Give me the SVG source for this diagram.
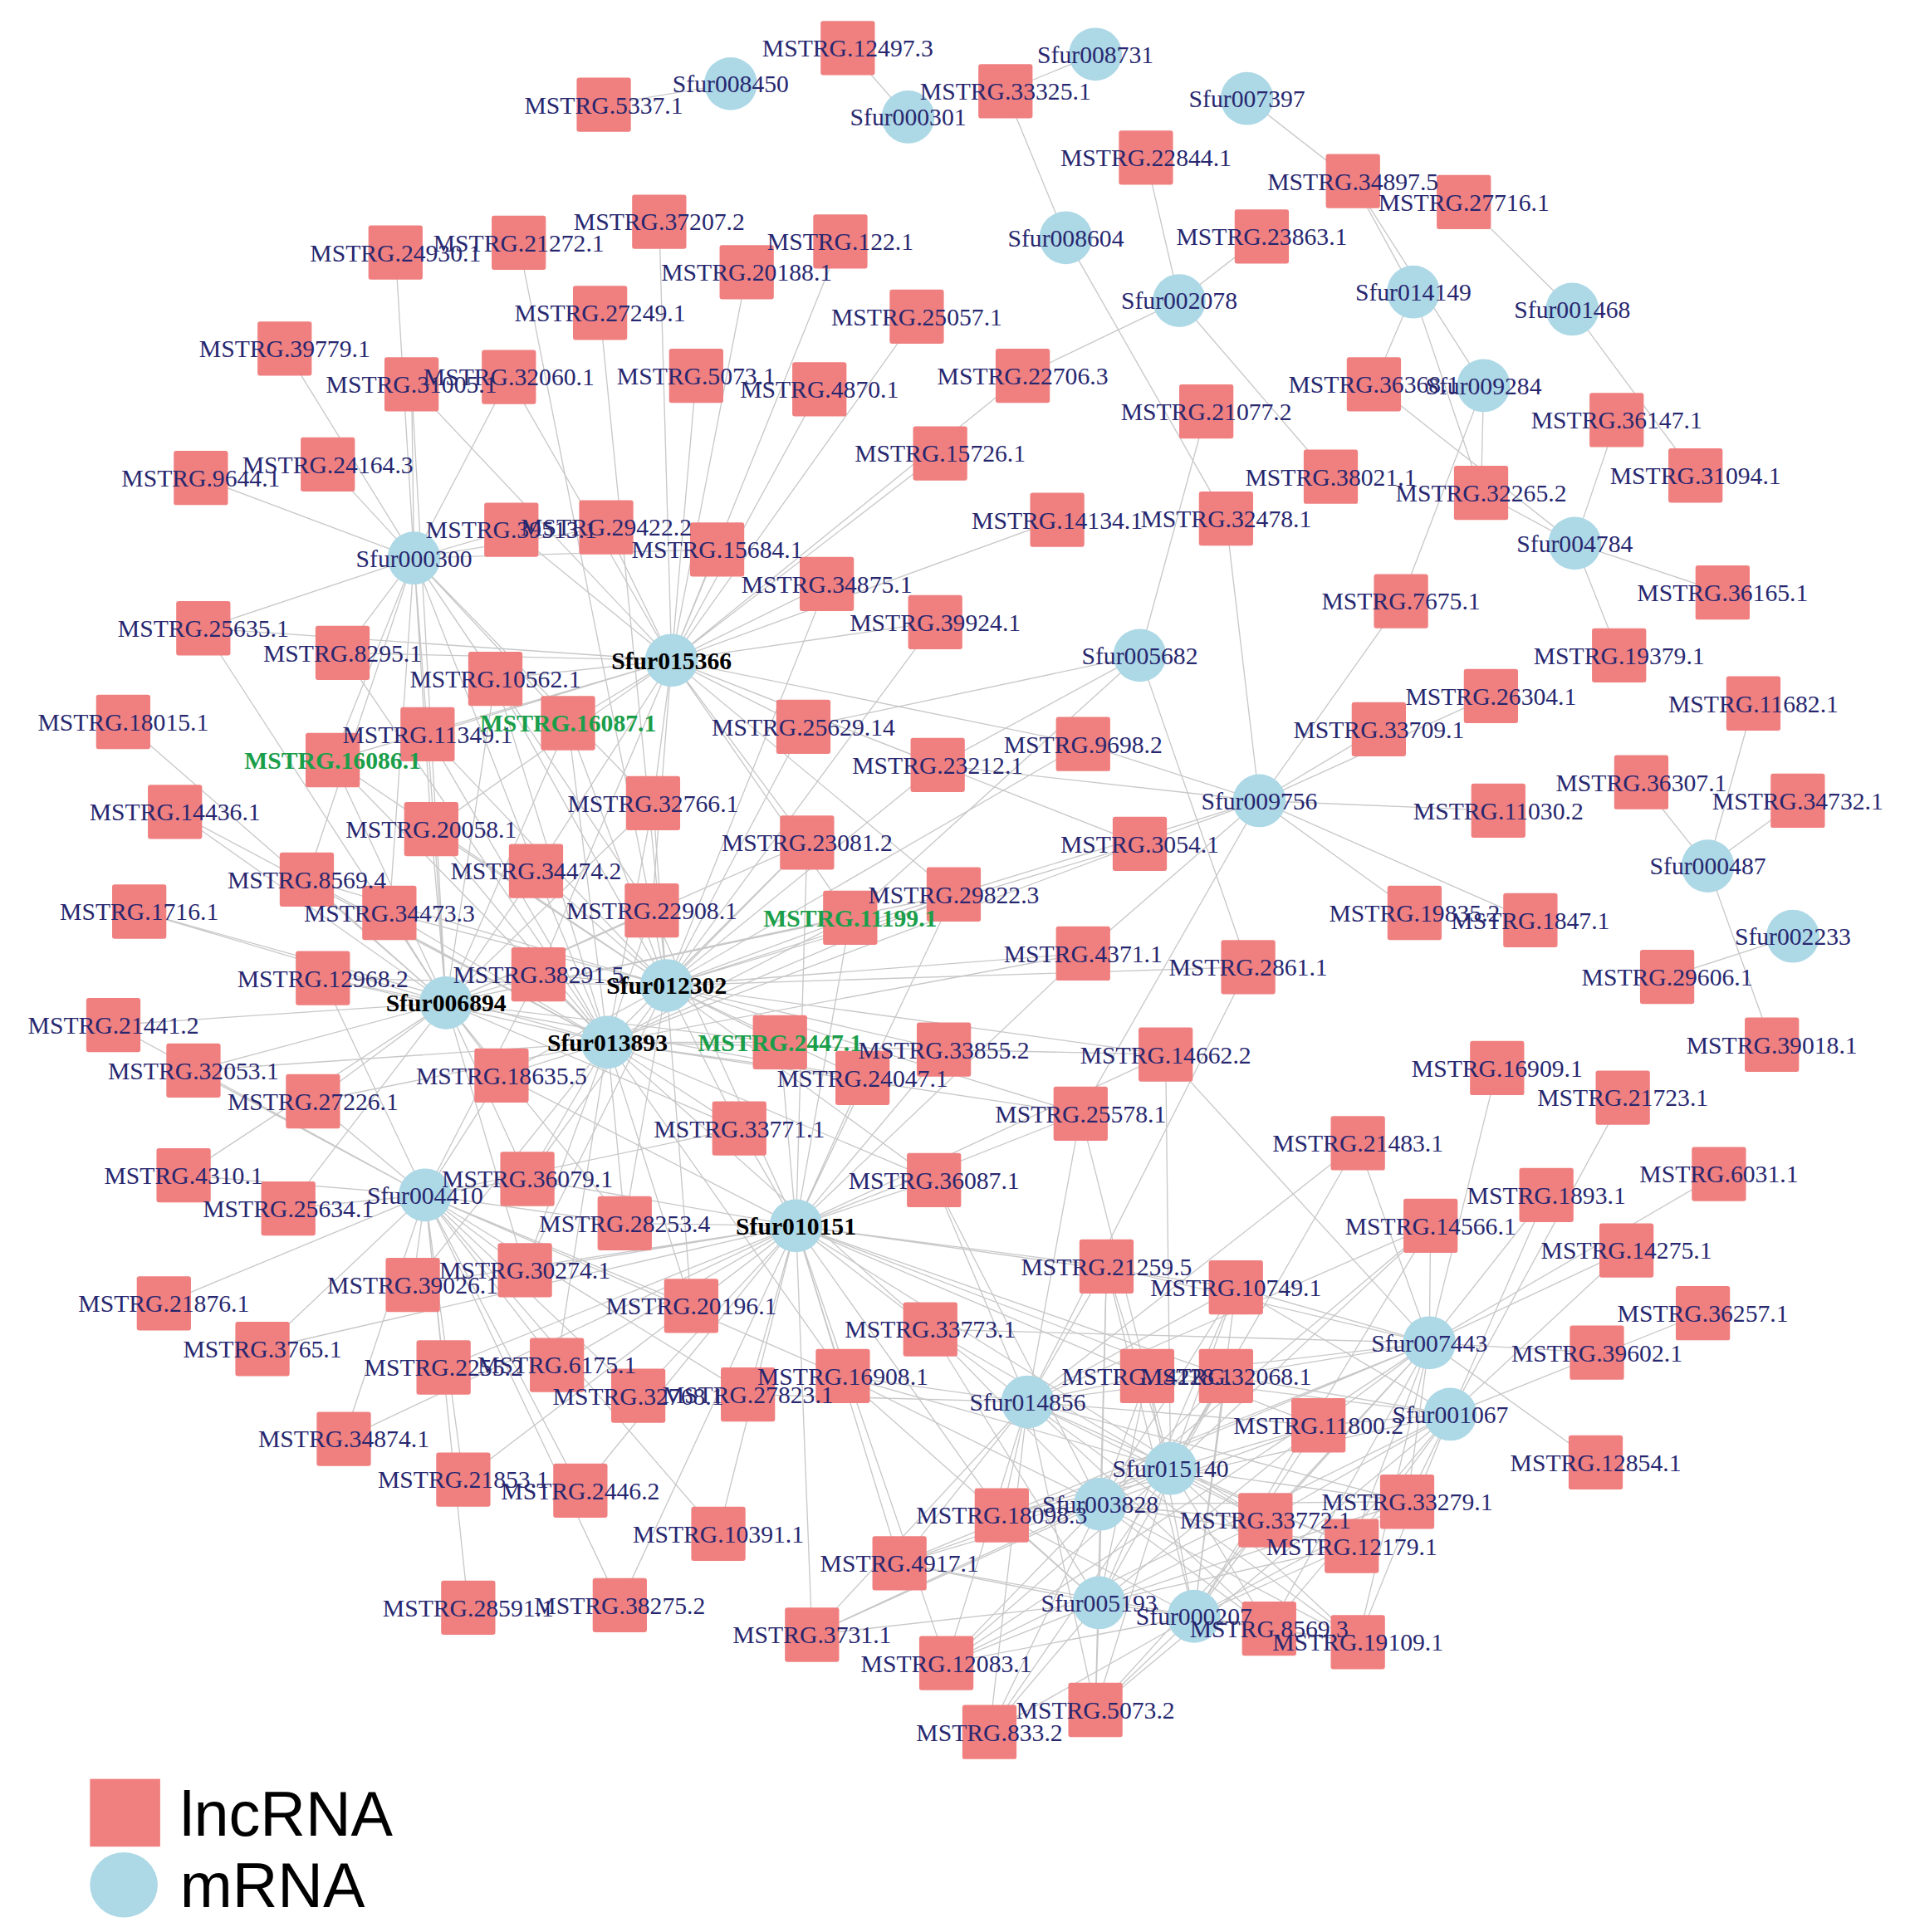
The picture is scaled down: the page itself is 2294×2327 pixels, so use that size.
<svg xmlns="http://www.w3.org/2000/svg" width="2294" height="2327" viewBox="0 0 2294 2327">
<style>
.e{fill:none;stroke:#c8c8c8;stroke-width:0.9}
.sq{fill:#f08080}
.ci{fill:#add8e6}
#labels text{font-family:"Liberation Serif","Times New Roman",serif;font-size:20px;fill:#27276f;text-anchor:middle}
#labels text.b{font-weight:bold;fill:#000}
#labels text.g{font-weight:bold;fill:#1a9e4a}
.lg{font-family:"Liberation Sans",Arial,sans-serif;font-size:51px;fill:#000}
</style>
<defs>
<rect id="sq" class="sq" x="-22" y="-22" width="44" height="44" rx="2"/>
<circle id="ci" class="ci" r="21.5"/>
</defs>
<rect width="2294" height="2327" fill="#fff"/>
<g transform="scale(1.4838)">
<g id="edges">
<path class="e" d="M593 68L490 85M737 95L688 39M889 44L816 74M865 193L816 74M865 193L995 421M1012 80L1098 147M957 244L930 128M957 244L1024 192M957 244L830 305M957 244L1080 387M1147 237L1098 147M1147 237L1115 312M1147 237L1202 400M1204 313L1098 147M1204 313L1202 400M1204 313L1137 488M1276 251L1188 164M1276 251L1376 386M1278 441L1312 341M1278 441L1202 400M1278 441L1115 312M1278 441L1398 481M1278 441L1314 532M1386 703L1423 571M1386 703L1332 635M1386 703L1459 650M1386 703L1438 848M1455 760L1353 793"/>
<path class="e" d="M336 453L321 205M336 453L231 283M336 453L334 312M336 453L413 306M336 453L266 377M336 453L163 388M336 453L165 510M336 453L278 530M336 453L402 551M336 453L415 430M336 453L492 428M336 453L582 446M336 453L347 596M336 453L461 587M336 453L270 617M336 453L350 673M336 453L435 707M336 453L530 652M336 453L316 741M336 453L249 714M336 453L529 739"/>
<path class="e" d="M545 536L334 312M545 536L413 306M545 536L535 180M545 536L682 196M545 536L606 221M545 536L565 305M545 536L665 316M545 536L744 257M545 536L830 305M545 536L763 368M545 536L858 422M545 536L671 474M545 536L759 505M545 536L582 446M545 536L492 428M545 536L415 430M545 536L278 530M545 536L402 551M545 536L347 596M545 536L461 587M545 536L270 617M545 536L165 510M545 536L530 652M545 536L350 673M545 536L435 707M545 536L529 739M545 536L655 684M545 536L652 590M545 536L761 621M545 536L879 604M545 536L690 745M545 536L774 726M545 536L925 685M545 536L437 791"/>
<path class="e" d="M541 800L421 197M541 800L487 254M541 800L671 474M541 800L759 505M541 800L402 551M541 800L347 596M541 800L461 587M541 800L270 617M541 800L530 652M541 800L350 673M541 800L435 707M541 800L529 739M541 800L655 684M541 800L652 590M541 800L761 621M541 800L879 604M541 800L690 745M541 800L774 726M541 800L925 685M541 800L879 774M541 800L1013 785M541 800L437 791M541 800L262 794M541 800L316 741M541 800L249 714M541 800L633 846M541 800L766 852M541 800L946 856M541 800L700 875M541 800L407 873M541 800L600 916M541 800L877 904M541 800L758 958M541 800L428 957M541 800L507 993M541 800L561 1060M541 800L426 1031"/>
<path class="e" d="M493 846L461 587M493 846L270 617M493 846L347 596M493 846L402 551M493 846L278 530M493 846L530 652M493 846L350 673M493 846L435 707M493 846L529 739M493 846L655 684M493 846L690 745M493 846L774 726M493 846L925 685M493 846L879 774M493 846L437 791M493 846L262 794M493 846L316 741M493 846L249 714M493 846L113 740M493 846L142 659M493 846L633 846M493 846L766 852M493 846L946 856M493 846L700 875M493 846L407 873M493 846L600 916M493 846L877 904M493 846L758 958M493 846L428 957M493 846L507 993M493 846L254 894M493 846L157 869M493 846L426 1031M493 846L561 1060M493 846L335 1043M493 846L452 1108M493 846L684 1117M493 846L755 1079"/>
<path class="e" d="M362 814L92 832M362 814L157 869M362 814L254 894M362 814L262 794M362 814L316 741M362 814L249 714M362 814L113 740M362 814L142 659M362 814L100 586M362 814L165 510M362 814L334 312M362 814L350 673M362 814L270 617M362 814L347 596M362 814L461 587M362 814L402 551M362 814L407 873M362 814L428 957M362 814L437 791M362 814L435 707M362 814L529 739M362 814L633 846M362 814L690 745M362 814L530 652M362 814L655 684M362 814L774 726M362 814L600 916M362 814L700 875M362 814L426 1031M362 814L507 993M362 814L149 954M362 814L234 981"/>
<path class="e" d="M646 995L758 958M646 995L600 916M646 995L700 875M646 995L633 846M646 995L766 852M646 995L507 993M646 995L561 1060M646 995L755 1079M646 995L684 1117M646 995L607 1132M646 995L518 1133M646 995L452 1108M646 995L360 1110M646 995L426 1031M646 995L335 1043M646 995L428 957M646 995L583 1245M646 995L471 1210M646 995L376 1201M646 995L503 1303M646 995L659 1327M646 995L898 1028M646 995L1003 1045M646 995L931 1117M646 995L995 1117M646 995L877 904M646 995L407 873M646 995L690 745M646 995L774 726M646 995L655 684M646 995L529 739M646 995L946 856M646 995L879 774M646 995L813 1230M646 995L730 1269M646 995L768 1350M646 995L1070 1157M646 995L1027 1234M646 995L213 1095M646 995L279 1168"/>
<path class="e" d="M345 970L149 954M345 970L234 981M345 970L133 1058M345 970L213 1095M345 970L279 1168M345 970L335 1043M345 970L426 1031M345 970L428 957M345 970L507 993M345 970L254 894M345 970L157 869M345 970L407 873M345 970L360 1110M345 970L452 1108M345 970L376 1201M345 970L471 1210M345 970L561 1060M345 970L518 1133M345 970L380 1305M345 970L503 1303M345 970L262 794M345 970L92 832M345 970L607 1132M345 970L583 1245M345 970L684 1117M345 970L600 916M345 970L437 791"/>
<path class="e" d="M834 1138L758 958M834 1138L877 904M834 1138L898 1028M834 1138L1003 1045M834 1138L931 1117M834 1138L995 1117M834 1138L755 1079M834 1138L684 1117M834 1138L813 1230M834 1138L730 1269M834 1138L659 1327M834 1138L768 1350M834 1138L803 1406M834 1138L889 1388M834 1138L1027 1234M834 1138L1097 1255M834 1138L1070 1157M834 1138L1030 1322M834 1138L1102 1333M834 1138L1142 1219M834 1138L1102 928M834 1138L1161 995M834 1138L607 1132M834 1138L1013 785"/>
<path class="e" d="M950 1192L898 1028M950 1192L1003 1045M950 1192L931 1117M950 1192L995 1117M950 1192L1070 1157M950 1192L1142 1219M950 1192L1027 1234M950 1192L1097 1255M950 1192L1030 1322M950 1192L1102 1333M950 1192L889 1388M950 1192L803 1406M950 1192L768 1350M950 1192L813 1230M950 1192L730 1269M950 1192L684 1117M950 1192L755 1079M950 1192L1102 928M950 1192L1161 995M950 1192L877 904M950 1192L946 856M950 1192L659 1327"/>
<path class="e" d="M893 1221L898 1028M893 1221L1003 1045M893 1221L931 1117M893 1221L995 1117M893 1221L1070 1157M893 1221L1142 1219M893 1221L1027 1234M893 1221L1097 1255M893 1221L1030 1322M893 1221L1102 1333M893 1221L889 1388M893 1221L803 1406M893 1221L768 1350M893 1221L813 1230M893 1221L730 1269M893 1221L659 1327M893 1221L684 1117M893 1221L755 1079M893 1221L758 958M893 1221L1161 995"/>
<path class="e" d="M892 1301L813 1230M892 1301L730 1269M892 1301L659 1327M892 1301L768 1350M892 1301L803 1406M892 1301L889 1388M892 1301L1027 1234M892 1301L1097 1255M892 1301L1030 1322M892 1301L1102 1333M892 1301L931 1117M892 1301L995 1117M892 1301L1070 1157M892 1301L1142 1219M892 1301L898 1028M892 1301L1003 1045M892 1301L684 1117M892 1301L755 1079"/>
<path class="e" d="M969 1312L889 1388M969 1312L803 1406M969 1312L768 1350M969 1312L1030 1322M969 1312L1102 1333M969 1312L1097 1255M969 1312L1027 1234M969 1312L1142 1219M969 1312L1070 1157M969 1312L995 1117M969 1312L931 1117M969 1312L1003 1045M969 1312L898 1028M969 1312L813 1230M969 1312L730 1269M969 1312L1161 995"/>
<path class="e" d="M1160 1090L1102 928M1160 1090L1161 995M1160 1090L1215 867M1160 1090L1255 970M1160 1090L1320 1015M1160 1090L1395 953M1160 1090L1296 1098M1160 1090L1295 1187M1160 1090L1070 1157M1160 1090L1003 1045M1160 1090L898 1028M1160 1090L995 1117M1160 1090L931 1117M1160 1090L1142 1219M1160 1090L1027 1234M1160 1090L1097 1255M1160 1090L1030 1322M1160 1090L1102 1333M1160 1090L889 1388M1160 1090L813 1230M1160 1090L730 1269M1160 1090L768 1350M1160 1090L755 1079M1160 1090L946 856"/>
<path class="e" d="M1177 1148L1255 970M1177 1148L1320 1015M1177 1148L1382 1066M1177 1148L1317 891M1177 1148L1070 1157M1177 1148L1142 1219M1177 1148L1097 1255M1177 1148L1102 1333M1177 1148L1030 1322M1177 1148L1027 1234M1177 1148L889 1388M1177 1148L995 1117M1177 1148L931 1117M1177 1148L813 1230M1177 1148L768 1350M1177 1148L1003 1045"/>
<path class="e" d="M1022 650L1137 488M1022 650L1210 565M1022 650L1119 592M1022 650L1216 658M1022 650L1148 741M1022 650L1242 747M1022 650L995 421M1022 650L879 604M1022 650L761 621M1022 650L925 685M1022 650L774 726M1022 650L879 774M1022 650L877 904"/>
<path class="e" d="M925 532L979 334M925 532L652 590M925 532L761 621M925 532L1013 785M925 532L690 745"/>
</g>
<g id="nodes">
<g id="Sfur008450"><use href="#ci" x="593" y="68"/></g>
<g id="Sfur000301"><use href="#ci" x="737" y="95"/></g>
<g id="Sfur008731"><use href="#ci" x="889" y="44"/></g>
<g id="Sfur007397"><use href="#ci" x="1012" y="80"/></g>
<g id="Sfur008604"><use href="#ci" x="865" y="193"/></g>
<g id="Sfur002078"><use href="#ci" x="957" y="244"/></g>
<g id="Sfur014149"><use href="#ci" x="1147" y="237"/></g>
<g id="Sfur001468"><use href="#ci" x="1276" y="251"/></g>
<g id="Sfur009284"><use href="#ci" x="1204" y="313"/></g>
<g id="Sfur004784"><use href="#ci" x="1278" y="441"/></g>
<g id="Sfur000300"><use href="#ci" x="336" y="453"/></g>
<g id="Sfur015366"><use href="#ci" x="545" y="536"/></g>
<g id="Sfur005682"><use href="#ci" x="925" y="532"/></g>
<g id="Sfur009756"><use href="#ci" x="1022" y="650"/></g>
<g id="Sfur000487"><use href="#ci" x="1386" y="703"/></g>
<g id="Sfur002233"><use href="#ci" x="1455" y="760"/></g>
<g id="Sfur012302"><use href="#ci" x="541" y="800"/></g>
<g id="Sfur006894"><use href="#ci" x="362" y="814"/></g>
<g id="Sfur013893"><use href="#ci" x="493" y="846"/></g>
<g id="Sfur004410"><use href="#ci" x="345" y="970"/></g>
<g id="Sfur010151"><use href="#ci" x="646" y="995"/></g>
<g id="Sfur007443"><use href="#ci" x="1160" y="1090"/></g>
<g id="Sfur014856"><use href="#ci" x="834" y="1138"/></g>
<g id="Sfur001067"><use href="#ci" x="1177" y="1148"/></g>
<g id="Sfur015140"><use href="#ci" x="950" y="1192"/></g>
<g id="Sfur003828"><use href="#ci" x="893" y="1221"/></g>
<g id="Sfur005193"><use href="#ci" x="892" y="1301"/></g>
<g id="Sfur000207"><use href="#ci" x="969" y="1312"/></g>
<g id="MSTRG.12497.3"><use href="#sq" x="688" y="39"/></g>
<g id="MSTRG.5337.1"><use href="#sq" x="490" y="85"/></g>
<g id="MSTRG.33325.1"><use href="#sq" x="816" y="74"/></g>
<g id="MSTRG.22844.1"><use href="#sq" x="930" y="128"/></g>
<g id="MSTRG.34897.5"><use href="#sq" x="1098" y="147"/></g>
<g id="MSTRG.27716.1"><use href="#sq" x="1188" y="164"/></g>
<g id="MSTRG.23863.1"><use href="#sq" x="1024" y="192"/></g>
<g id="MSTRG.37207.2"><use href="#sq" x="535" y="180"/></g>
<g id="MSTRG.24930.1"><use href="#sq" x="321" y="205"/></g>
<g id="MSTRG.21272.1"><use href="#sq" x="421" y="197"/></g>
<g id="MSTRG.122.1"><use href="#sq" x="682" y="196"/></g>
<g id="MSTRG.20188.1"><use href="#sq" x="606" y="221"/></g>
<g id="MSTRG.27249.1"><use href="#sq" x="487" y="254"/></g>
<g id="MSTRG.25057.1"><use href="#sq" x="744" y="257"/></g>
<g id="MSTRG.39779.1"><use href="#sq" x="231" y="283"/></g>
<g id="MSTRG.31005.1"><use href="#sq" x="334" y="312"/></g>
<g id="MSTRG.32060.1"><use href="#sq" x="413" y="306"/></g>
<g id="MSTRG.5073.1"><use href="#sq" x="565" y="305"/></g>
<g id="MSTRG.4870.1"><use href="#sq" x="665" y="316"/></g>
<g id="MSTRG.22706.3"><use href="#sq" x="830" y="305"/></g>
<g id="MSTRG.21077.2"><use href="#sq" x="979" y="334"/></g>
<g id="MSTRG.36368.1"><use href="#sq" x="1115" y="312"/></g>
<g id="MSTRG.36147.1"><use href="#sq" x="1312" y="341"/></g>
<g id="MSTRG.31094.1"><use href="#sq" x="1376" y="386"/></g>
<g id="MSTRG.15726.1"><use href="#sq" x="763" y="368"/></g>
<g id="MSTRG.38021.1"><use href="#sq" x="1080" y="387"/></g>
<g id="MSTRG.32265.2"><use href="#sq" x="1202" y="400"/></g>
<g id="MSTRG.9644.1"><use href="#sq" x="163" y="388"/></g>
<g id="MSTRG.24164.3"><use href="#sq" x="266" y="377"/></g>
<g id="MSTRG.14134.1"><use href="#sq" x="858" y="422"/></g>
<g id="MSTRG.32478.1"><use href="#sq" x="995" y="421"/></g>
<g id="MSTRG.39513.1"><use href="#sq" x="415" y="430"/></g>
<g id="MSTRG.29422.2"><use href="#sq" x="492" y="428"/></g>
<g id="MSTRG.15684.1"><use href="#sq" x="582" y="446"/></g>
<g id="MSTRG.34875.1"><use href="#sq" x="671" y="474"/></g>
<g id="MSTRG.39924.1"><use href="#sq" x="759" y="505"/></g>
<g id="MSTRG.7675.1"><use href="#sq" x="1137" y="488"/></g>
<g id="MSTRG.36165.1"><use href="#sq" x="1398" y="481"/></g>
<g id="MSTRG.19379.1"><use href="#sq" x="1314" y="532"/></g>
<g id="MSTRG.25635.1"><use href="#sq" x="165" y="510"/></g>
<g id="MSTRG.8295.1"><use href="#sq" x="278" y="530"/></g>
<g id="MSTRG.10562.1"><use href="#sq" x="402" y="551"/></g>
<g id="MSTRG.26304.1"><use href="#sq" x="1210" y="565"/></g>
<g id="MSTRG.11682.1"><use href="#sq" x="1423" y="571"/></g>
<g id="MSTRG.18015.1"><use href="#sq" x="100" y="586"/></g>
<g id="MSTRG.11349.1"><use href="#sq" x="347" y="596"/></g>
<g id="MSTRG.16087.1"><use href="#sq" x="461" y="587"/></g>
<g id="MSTRG.25629.14"><use href="#sq" x="652" y="590"/></g>
<g id="MSTRG.33709.1"><use href="#sq" x="1119" y="592"/></g>
<g id="MSTRG.16086.1"><use href="#sq" x="270" y="617"/></g>
<g id="MSTRG.9698.2"><use href="#sq" x="879" y="604"/></g>
<g id="MSTRG.23212.1"><use href="#sq" x="761" y="621"/></g>
<g id="MSTRG.36307.1"><use href="#sq" x="1332" y="635"/></g>
<g id="MSTRG.34732.1"><use href="#sq" x="1459" y="650"/></g>
<g id="MSTRG.11030.2"><use href="#sq" x="1216" y="658"/></g>
<g id="MSTRG.14436.1"><use href="#sq" x="142" y="659"/></g>
<g id="MSTRG.32766.1"><use href="#sq" x="530" y="652"/></g>
<g id="MSTRG.20058.1"><use href="#sq" x="350" y="673"/></g>
<g id="MSTRG.23081.2"><use href="#sq" x="655" y="684"/></g>
<g id="MSTRG.3054.1"><use href="#sq" x="925" y="685"/></g>
<g id="MSTRG.8569.4"><use href="#sq" x="249" y="714"/></g>
<g id="MSTRG.34474.2"><use href="#sq" x="435" y="707"/></g>
<g id="MSTRG.34473.3"><use href="#sq" x="316" y="741"/></g>
<g id="MSTRG.1716.1"><use href="#sq" x="113" y="740"/></g>
<g id="MSTRG.22908.1"><use href="#sq" x="529" y="739"/></g>
<g id="MSTRG.29822.3"><use href="#sq" x="774" y="726"/></g>
<g id="MSTRG.11199.1"><use href="#sq" x="690" y="745"/></g>
<g id="MSTRG.19835.2"><use href="#sq" x="1148" y="741"/></g>
<g id="MSTRG.1847.1"><use href="#sq" x="1242" y="747"/></g>
<g id="MSTRG.4371.1"><use href="#sq" x="879" y="774"/></g>
<g id="MSTRG.2861.1"><use href="#sq" x="1013" y="785"/></g>
<g id="MSTRG.12968.2"><use href="#sq" x="262" y="794"/></g>
<g id="MSTRG.38291.5"><use href="#sq" x="437" y="791"/></g>
<g id="MSTRG.29606.1"><use href="#sq" x="1353" y="793"/></g>
<g id="MSTRG.21441.2"><use href="#sq" x="92" y="832"/></g>
<g id="MSTRG.2447.1"><use href="#sq" x="633" y="846"/></g>
<g id="MSTRG.33855.2"><use href="#sq" x="766" y="852"/></g>
<g id="MSTRG.14662.2"><use href="#sq" x="946" y="856"/></g>
<g id="MSTRG.39018.1"><use href="#sq" x="1438" y="848"/></g>
<g id="MSTRG.32053.1"><use href="#sq" x="157" y="869"/></g>
<g id="MSTRG.18635.5"><use href="#sq" x="407" y="873"/></g>
<g id="MSTRG.24047.1"><use href="#sq" x="700" y="875"/></g>
<g id="MSTRG.16909.1"><use href="#sq" x="1215" y="867"/></g>
<g id="MSTRG.27226.1"><use href="#sq" x="254" y="894"/></g>
<g id="MSTRG.21723.1"><use href="#sq" x="1317" y="891"/></g>
<g id="MSTRG.25578.1"><use href="#sq" x="877" y="904"/></g>
<g id="MSTRG.33771.1"><use href="#sq" x="600" y="916"/></g>
<g id="MSTRG.21483.1"><use href="#sq" x="1102" y="928"/></g>
<g id="MSTRG.4310.1"><use href="#sq" x="149" y="954"/></g>
<g id="MSTRG.36079.1"><use href="#sq" x="428" y="957"/></g>
<g id="MSTRG.36087.1"><use href="#sq" x="758" y="958"/></g>
<g id="MSTRG.6031.1"><use href="#sq" x="1395" y="953"/></g>
<g id="MSTRG.25634.1"><use href="#sq" x="234" y="981"/></g>
<g id="MSTRG.28253.4"><use href="#sq" x="507" y="993"/></g>
<g id="MSTRG.1893.1"><use href="#sq" x="1255" y="970"/></g>
<g id="MSTRG.14566.1"><use href="#sq" x="1161" y="995"/></g>
<g id="MSTRG.14275.1"><use href="#sq" x="1320" y="1015"/></g>
<g id="MSTRG.30274.1"><use href="#sq" x="426" y="1031"/></g>
<g id="MSTRG.39026.1"><use href="#sq" x="335" y="1043"/></g>
<g id="MSTRG.21259.5"><use href="#sq" x="898" y="1028"/></g>
<g id="MSTRG.10749.1"><use href="#sq" x="1003" y="1045"/></g>
<g id="MSTRG.21876.1"><use href="#sq" x="133" y="1058"/></g>
<g id="MSTRG.20196.1"><use href="#sq" x="561" y="1060"/></g>
<g id="MSTRG.36257.1"><use href="#sq" x="1382" y="1066"/></g>
<g id="MSTRG.33773.1"><use href="#sq" x="755" y="1079"/></g>
<g id="MSTRG.3765.1"><use href="#sq" x="213" y="1095"/></g>
<g id="MSTRG.39602.1"><use href="#sq" x="1296" y="1098"/></g>
<g id="MSTRG.2255.2"><use href="#sq" x="360" y="1110"/></g>
<g id="MSTRG.6175.1"><use href="#sq" x="452" y="1108"/></g>
<g id="MSTRG.32768.1"><use href="#sq" x="518" y="1133"/></g>
<g id="MSTRG.27823.1"><use href="#sq" x="607" y="1132"/></g>
<g id="MSTRG.16908.1"><use href="#sq" x="684" y="1117"/></g>
<g id="MSTRG.14228.1"><use href="#sq" x="931" y="1117"/></g>
<g id="MSTRG.32068.1"><use href="#sq" x="995" y="1117"/></g>
<g id="MSTRG.11800.2"><use href="#sq" x="1070" y="1157"/></g>
<g id="MSTRG.12854.1"><use href="#sq" x="1295" y="1187"/></g>
<g id="MSTRG.34874.1"><use href="#sq" x="279" y="1168"/></g>
<g id="MSTRG.21853.1"><use href="#sq" x="376" y="1201"/></g>
<g id="MSTRG.2446.2"><use href="#sq" x="471" y="1210"/></g>
<g id="MSTRG.10391.1"><use href="#sq" x="583" y="1245"/></g>
<g id="MSTRG.18098.3"><use href="#sq" x="813" y="1230"/></g>
<g id="MSTRG.33279.1"><use href="#sq" x="1142" y="1219"/></g>
<g id="MSTRG.33772.1"><use href="#sq" x="1027" y="1234"/></g>
<g id="MSTRG.12179.1"><use href="#sq" x="1097" y="1255"/></g>
<g id="MSTRG.4917.1"><use href="#sq" x="730" y="1269"/></g>
<g id="MSTRG.28591.1"><use href="#sq" x="380" y="1305"/></g>
<g id="MSTRG.38275.2"><use href="#sq" x="503" y="1303"/></g>
<g id="MSTRG.8569.3"><use href="#sq" x="1030" y="1322"/></g>
<g id="MSTRG.19109.1"><use href="#sq" x="1102" y="1333"/></g>
<g id="MSTRG.3731.1"><use href="#sq" x="659" y="1327"/></g>
<g id="MSTRG.12083.1"><use href="#sq" x="768" y="1350"/></g>
<g id="MSTRG.5073.2"><use href="#sq" x="889" y="1388"/></g>
<g id="MSTRG.833.2"><use href="#sq" x="803" y="1406"/></g>
</g>
<g id="labels">
<text x="593" y="75">Sfur008450</text>
<text x="737" y="102">Sfur000301</text>
<text x="889" y="51">Sfur008731</text>
<text x="1012" y="87">Sfur007397</text>
<text x="865" y="200">Sfur008604</text>
<text x="957" y="251">Sfur002078</text>
<text x="1147" y="244">Sfur014149</text>
<text x="1276" y="258">Sfur001468</text>
<text x="1278" y="448">Sfur004784</text>
<text x="336" y="460">Sfur000300</text>
<text x="925" y="539">Sfur005682</text>
<text x="1022" y="657">Sfur009756</text>
<text x="1386" y="710">Sfur000487</text>
<text x="1455" y="767">Sfur002233</text>
<text x="345" y="977">Sfur004410</text>
<text x="1160" y="1097">Sfur007443</text>
<text x="834" y="1145">Sfur014856</text>
<text x="1177" y="1155">Sfur001067</text>
<text x="950" y="1199">Sfur015140</text>
<text x="893" y="1228">Sfur003828</text>
<text x="892" y="1308">Sfur005193</text>
<text x="688" y="46">MSTRG.12497.3</text>
<text x="490" y="92">MSTRG.5337.1</text>
<text x="816" y="81">MSTRG.33325.1</text>
<text x="930" y="135">MSTRG.22844.1</text>
<text x="1098" y="154">MSTRG.34897.5</text>
<text x="1188" y="171">MSTRG.27716.1</text>
<text x="1024" y="199">MSTRG.23863.1</text>
<text x="535" y="187">MSTRG.37207.2</text>
<text x="321" y="212">MSTRG.24930.1</text>
<text x="421" y="204">MSTRG.21272.1</text>
<text x="682" y="203">MSTRG.122.1</text>
<text x="606" y="228">MSTRG.20188.1</text>
<text x="487" y="261">MSTRG.27249.1</text>
<text x="744" y="264">MSTRG.25057.1</text>
<text x="231" y="290">MSTRG.39779.1</text>
<text x="334" y="319">MSTRG.31005.1</text>
<text x="413" y="313">MSTRG.32060.1</text>
<text x="565" y="312">MSTRG.5073.1</text>
<text x="665" y="323">MSTRG.4870.1</text>
<text x="830" y="312">MSTRG.22706.3</text>
<text x="979" y="341">MSTRG.21077.2</text>
<text x="1115" y="319">MSTRG.36368.1</text>
<text x="1204" y="320">Sfur009284</text>
<text x="1312" y="348">MSTRG.36147.1</text>
<text x="1376" y="393">MSTRG.31094.1</text>
<text x="763" y="375">MSTRG.15726.1</text>
<text x="1080" y="394">MSTRG.38021.1</text>
<text x="1202" y="407">MSTRG.32265.2</text>
<text x="163" y="395">MSTRG.9644.1</text>
<text x="266" y="384">MSTRG.24164.3</text>
<text x="858" y="429">MSTRG.14134.1</text>
<text x="995" y="428">MSTRG.32478.1</text>
<text x="415" y="437">MSTRG.39513.1</text>
<text x="492" y="435">MSTRG.29422.2</text>
<text x="582" y="453">MSTRG.15684.1</text>
<text x="671" y="481">MSTRG.34875.1</text>
<text x="759" y="512">MSTRG.39924.1</text>
<text x="1137" y="495">MSTRG.7675.1</text>
<text x="1398" y="488">MSTRG.36165.1</text>
<text x="1314" y="539">MSTRG.19379.1</text>
<text x="165" y="517">MSTRG.25635.1</text>
<text x="278" y="537">MSTRG.8295.1</text>
<text class="b" x="545" y="543">Sfur015366</text>
<text x="402" y="558">MSTRG.10562.1</text>
<text x="1210" y="572">MSTRG.26304.1</text>
<text x="1423" y="578">MSTRG.11682.1</text>
<text x="100" y="593">MSTRG.18015.1</text>
<text x="347" y="603">MSTRG.11349.1</text>
<text class="g" x="461" y="594">MSTRG.16087.1</text>
<text x="652" y="597">MSTRG.25629.14</text>
<text x="1119" y="599">MSTRG.33709.1</text>
<text class="g" x="270" y="624">MSTRG.16086.1</text>
<text x="879" y="611">MSTRG.9698.2</text>
<text x="761" y="628">MSTRG.23212.1</text>
<text x="1332" y="642">MSTRG.36307.1</text>
<text x="1459" y="657">MSTRG.34732.1</text>
<text x="1216" y="665">MSTRG.11030.2</text>
<text x="142" y="666">MSTRG.14436.1</text>
<text x="530" y="659">MSTRG.32766.1</text>
<text x="350" y="680">MSTRG.20058.1</text>
<text x="655" y="691">MSTRG.23081.2</text>
<text x="925" y="692">MSTRG.3054.1</text>
<text x="249" y="721">MSTRG.8569.4</text>
<text x="435" y="714">MSTRG.34474.2</text>
<text x="316" y="748">MSTRG.34473.3</text>
<text x="113" y="747">MSTRG.1716.1</text>
<text x="529" y="746">MSTRG.22908.1</text>
<text x="774" y="733">MSTRG.29822.3</text>
<text class="g" x="690" y="752">MSTRG.11199.1</text>
<text x="1148" y="748">MSTRG.19835.2</text>
<text x="1242" y="754">MSTRG.1847.1</text>
<text x="879" y="781">MSTRG.4371.1</text>
<text x="1013" y="792">MSTRG.2861.1</text>
<text x="262" y="801">MSTRG.12968.2</text>
<text x="437" y="798">MSTRG.38291.5</text>
<text class="b" x="541" y="807">Sfur012302</text>
<text x="1353" y="800">MSTRG.29606.1</text>
<text x="92" y="839">MSTRG.21441.2</text>
<text class="b" x="362" y="821">Sfur006894</text>
<text class="g" x="633" y="853">MSTRG.2447.1</text>
<text class="b" x="493" y="853">Sfur013893</text>
<text x="766" y="859">MSTRG.33855.2</text>
<text x="946" y="863">MSTRG.14662.2</text>
<text x="1438" y="855">MSTRG.39018.1</text>
<text x="157" y="876">MSTRG.32053.1</text>
<text x="407" y="880">MSTRG.18635.5</text>
<text x="700" y="882">MSTRG.24047.1</text>
<text x="1215" y="874">MSTRG.16909.1</text>
<text x="254" y="901">MSTRG.27226.1</text>
<text x="1317" y="898">MSTRG.21723.1</text>
<text x="877" y="911">MSTRG.25578.1</text>
<text x="600" y="923">MSTRG.33771.1</text>
<text x="1102" y="935">MSTRG.21483.1</text>
<text x="149" y="961">MSTRG.4310.1</text>
<text x="428" y="964">MSTRG.36079.1</text>
<text x="758" y="965">MSTRG.36087.1</text>
<text x="1395" y="960">MSTRG.6031.1</text>
<text x="234" y="988">MSTRG.25634.1</text>
<text x="507" y="1000">MSTRG.28253.4</text>
<text class="b" x="646" y="1002">Sfur010151</text>
<text x="1255" y="977">MSTRG.1893.1</text>
<text x="1161" y="1002">MSTRG.14566.1</text>
<text x="1320" y="1022">MSTRG.14275.1</text>
<text x="426" y="1038">MSTRG.30274.1</text>
<text x="335" y="1050">MSTRG.39026.1</text>
<text x="898" y="1035">MSTRG.21259.5</text>
<text x="1003" y="1052">MSTRG.10749.1</text>
<text x="133" y="1065">MSTRG.21876.1</text>
<text x="561" y="1067">MSTRG.20196.1</text>
<text x="1382" y="1073">MSTRG.36257.1</text>
<text x="755" y="1086">MSTRG.33773.1</text>
<text x="213" y="1102">MSTRG.3765.1</text>
<text x="1296" y="1105">MSTRG.39602.1</text>
<text x="360" y="1117">MSTRG.2255.2</text>
<text x="452" y="1115">MSTRG.6175.1</text>
<text x="518" y="1140">MSTRG.32768.1</text>
<text x="607" y="1139">MSTRG.27823.1</text>
<text x="684" y="1124">MSTRG.16908.1</text>
<text x="931" y="1124">MSTRG.14228.1</text>
<text x="995" y="1124">MSTRG.32068.1</text>
<text x="1070" y="1164">MSTRG.11800.2</text>
<text x="1295" y="1194">MSTRG.12854.1</text>
<text x="279" y="1175">MSTRG.34874.1</text>
<text x="376" y="1208">MSTRG.21853.1</text>
<text x="471" y="1217">MSTRG.2446.2</text>
<text x="583" y="1252">MSTRG.10391.1</text>
<text x="813" y="1237">MSTRG.18098.3</text>
<text x="1142" y="1226">MSTRG.33279.1</text>
<text x="1027" y="1241">MSTRG.33772.1</text>
<text x="1097" y="1262">MSTRG.12179.1</text>
<text x="730" y="1276">MSTRG.4917.1</text>
<text x="380" y="1312">MSTRG.28591.1</text>
<text x="503" y="1310">MSTRG.38275.2</text>
<text x="969" y="1319">Sfur000207</text>
<text x="1030" y="1329">MSTRG.8569.3</text>
<text x="1102" y="1340">MSTRG.19109.1</text>
<text x="659" y="1334">MSTRG.3731.1</text>
<text x="768" y="1357">MSTRG.12083.1</text>
<text x="889" y="1395">MSTRG.5073.2</text>
<text x="803" y="1413">MSTRG.833.2</text>
</g>
<g id="legend">
<rect x="73" y="1444" width="57" height="55" fill="#f08080"/>
<ellipse cx="100.5" cy="1530" rx="27.5" ry="26.5" fill="#add8e6"/>
<text class="lg" x="146" y="1490">lncRNA</text>
<text class="lg" x="146" y="1548">mRNA</text>
</g>
</g>
</svg>
